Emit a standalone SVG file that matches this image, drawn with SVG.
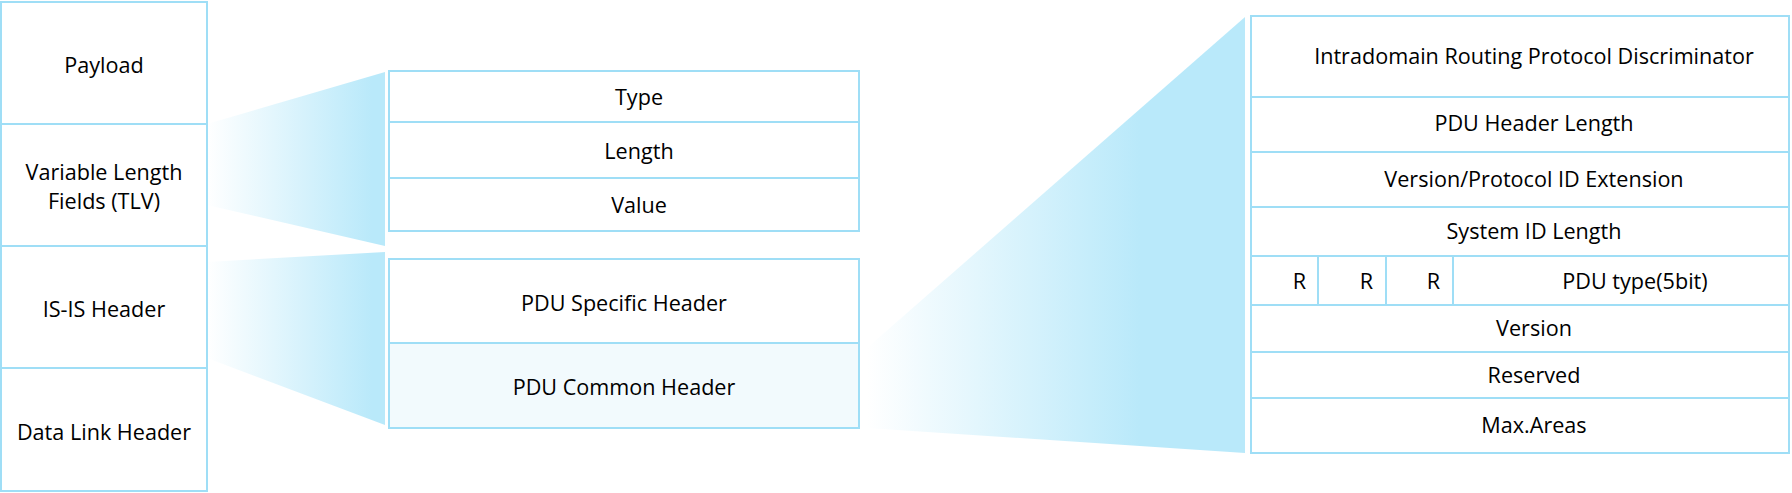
<svg xmlns="http://www.w3.org/2000/svg" width="1792" height="493" viewBox="0 0 1792 493">
  <style>
    .box { fill: #FFFFFF; stroke: #9FDEF6; stroke-width: 2; }
    .light { fill: #F2FAFD; stroke: #9FDEF6; stroke-width: 2; }
    .ln { stroke: #9FDEF6; stroke-width: 2; fill: none; }
    text { font-family: "Open Sans", "Liberation Sans", sans-serif; font-size: 21.6px; fill: #000000; text-anchor: middle; }
    .r { text-anchor: end; }
  </style>
  <defs>
    <linearGradient id="g1" gradientUnits="userSpaceOnUse" x1="207" y1="0" x2="372" y2="0">
      <stop offset="0" stop-color="#FFFFFF"/>
      <stop offset="1" stop-color="#B9E9FA"/>
    </linearGradient>
    <linearGradient id="g3" gradientUnits="userSpaceOnUse" x1="867" y1="0" x2="1140" y2="0">
      <stop offset="0" stop-color="#FFFFFF"/>
      <stop offset="1" stop-color="#B9E9FA"/>
    </linearGradient>
  </defs>

  <g id="connectors">
    <polygon points="207,124 385,72 385,246 207,205" fill="url(#g1)"/>
    <polygon points="207,262 385,252 385,425 207,358" fill="url(#g1)"/>
    <polygon points="867,348 1245,17 1245,453 867,428" fill="url(#g3)"/>
  </g>

  <g id="frame">
    <rect class="box" x="1" y="2" width="206" height="489"/>
    <line class="ln" x1="1" y1="124" x2="207" y2="124"/>
    <line class="ln" x1="1" y1="246" x2="207" y2="246"/>
    <line class="ln" x1="1" y1="368" x2="207" y2="368"/>
    <g id="payload"><text x="104" y="73">Payload</text></g>
    <g id="tlv-fields"><text x="104" y="180">Variable Length</text><text x="104" y="209">Fields (TLV)</text></g>
    <g id="isis-header"><text x="104" y="317">IS-IS Header</text></g>
    <g id="datalink-header"><text x="104" y="440">Data Link Header</text></g>
  </g>

  <g id="tlv">
    <rect class="box" x="389" y="71" width="470" height="160"/>
    <line class="ln" x1="389" y1="122" x2="859" y2="122"/>
    <line class="ln" x1="389" y1="178" x2="859" y2="178"/>
    <g id="type"><text x="639" y="105">Type</text></g>
    <g id="length"><text x="639" y="159">Length</text></g>
    <g id="value"><text x="639" y="213">Value</text></g>
  </g>

  <g id="pdu">
    <rect class="box" x="389" y="259" width="470" height="84"/>
    <rect class="light" x="389" y="343" width="470" height="85"/>
    <g id="pdu-specific"><text x="624" y="311">PDU Specific Header</text></g>
    <g id="pdu-common"><text x="624" y="395">PDU Common Header</text></g>
  </g>

  <g id="common-header">
    <rect class="box" x="1251" y="16" width="538" height="437"/>
    <line class="ln" x1="1251" y1="97" x2="1789" y2="97"/>
    <line class="ln" x1="1251" y1="152" x2="1789" y2="152"/>
    <line class="ln" x1="1251" y1="207" x2="1789" y2="207"/>
    <line class="ln" x1="1251" y1="256" x2="1789" y2="256"/>
    <line class="ln" x1="1251" y1="305" x2="1789" y2="305"/>
    <line class="ln" x1="1251" y1="352" x2="1789" y2="352"/>
    <line class="ln" x1="1251" y1="398" x2="1789" y2="398"/>
    <line class="ln" x1="1318" y1="256" x2="1318" y2="305"/>
    <line class="ln" x1="1386" y1="256" x2="1386" y2="305"/>
    <line class="ln" x1="1453" y1="256" x2="1453" y2="305"/>
    <g id="irpd"><text x="1534" y="64">Intradomain Routing Protocol Discriminator</text></g>
    <g id="hdr-len"><text x="1534" y="131">PDU Header Length</text></g>
    <g id="ver-ext"><text x="1534" y="187">Version/Protocol ID Extension</text></g>
    <g id="sysid-len"><text x="1534" y="239">System ID Length</text></g>
    <g id="r1"><text class="r" x="1306" y="289">R</text></g>
    <g id="r2"><text class="r" x="1373" y="289">R</text></g>
    <g id="r3"><text class="r" x="1440" y="289">R</text></g>
    <g id="pdu-type"><text x="1635" y="289">PDU type(5bit)</text></g>
    <g id="version"><text x="1534" y="336">Version</text></g>
    <g id="reserved"><text x="1534" y="383">Reserved</text></g>
    <g id="max-areas"><text x="1534" y="433">Max.Areas</text></g>
  </g>
</svg>
